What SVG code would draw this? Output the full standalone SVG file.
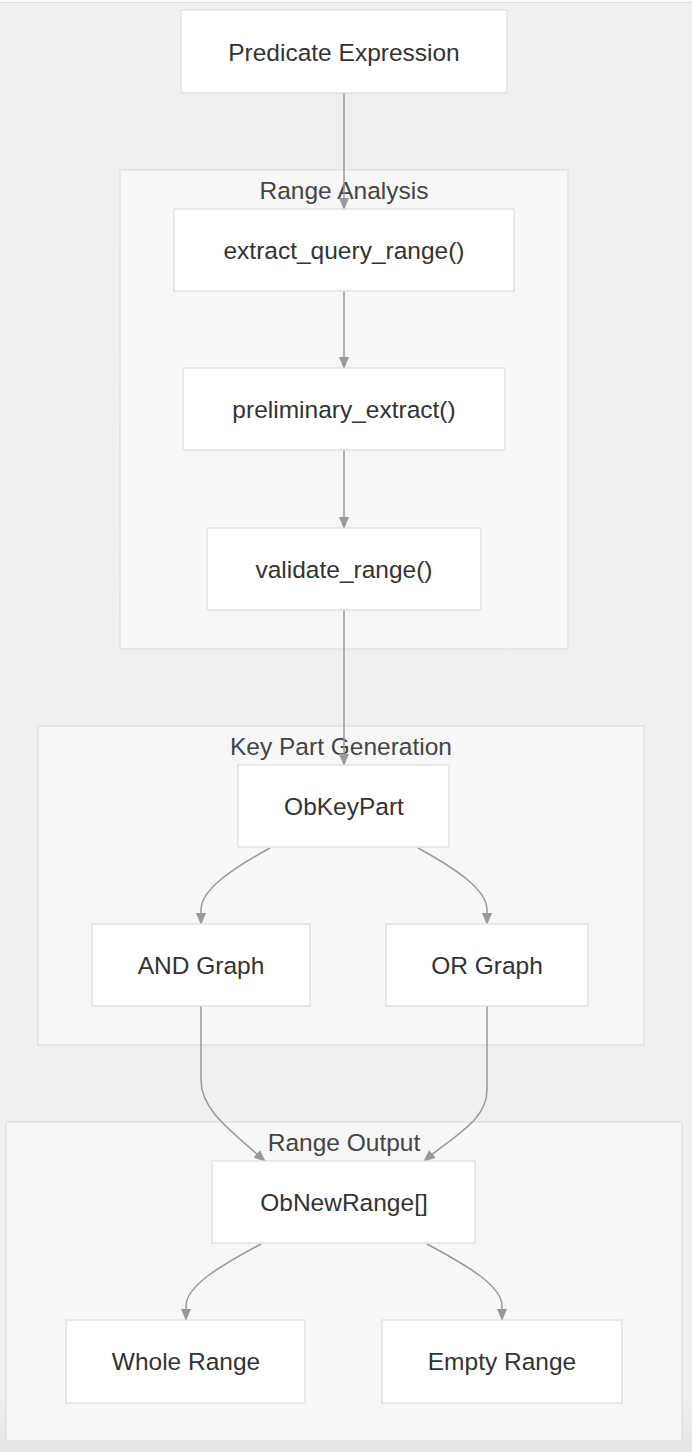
<svg xmlns="http://www.w3.org/2000/svg" width="692" height="1452" viewBox="0 0 692 1452">
<style>
.cluster rect{fill:#f7f7f7;stroke:#dcdcdc;stroke-width:1.2}
.node rect{fill:#ffffff;stroke:#dcdcdc;stroke-width:1.2}
text{font-family:"Liberation Sans",Arial,sans-serif;fill:#333333;text-anchor:middle;dominant-baseline:central}
.nt{font-size:24.5px}
.ct{font-size:24.5px;fill:#444444}
.edge{fill:none;stroke:#999999;stroke-width:1.5}
</style>
<defs>
<marker id="arr" viewBox="0 0 12 10" refX="11" refY="5" markerWidth="12" markerHeight="10" markerUnits="userSpaceOnUse" orient="auto">
<path d="M0,0 L12,5 L0,10 z" fill="#999999"/>
</marker>
<linearGradient id="bg" x1="0" y1="0" x2="0" y2="1">
<stop offset="0" stop-color="#f0efee"/>
<stop offset="0.96" stop-color="#f1f0ef"/>
<stop offset="1" stop-color="#e6e5e4"/>
</linearGradient>
</defs>
<rect x="0" y="0" width="692" height="1452" fill="url(#bg)"/>
<rect x="0" y="0" width="692" height="2" fill="#fafafa"/>
<line x1="0" y1="2.5" x2="692" y2="2.5" stroke="#e0e0e0" stroke-width="1"/>

<g id="cluster-range-analysis" class="cluster">
<rect x="120" y="170" width="448" height="479"/>
<text class="ct" x="344" y="190">Range Analysis</text>
</g>
<g id="cluster-key-part-generation" class="cluster">
<rect x="38" y="726" width="606" height="319"/>
<text class="ct" x="341" y="746">Key Part Generation</text>
</g>
<g id="cluster-range-output" class="cluster">
<rect x="6" y="1122" width="676" height="319"/>
<text class="ct" x="344" y="1142">Range Output</text>
</g>

<g id="connectors">
<path class="edge" marker-end="url(#arr)" d="M344,93 L344,209"/>
<path class="edge" marker-end="url(#arr)" d="M344,291 L344,368"/>
<path class="edge" marker-end="url(#arr)" d="M344,450 L344,528"/>
<path class="edge" marker-end="url(#arr)" d="M344,610 L344,765"/>
<path class="edge" marker-end="url(#arr)" d="M270,848 C230,870 201,890 201,910 L201,924"/>
<path class="edge" marker-end="url(#arr)" d="M418,848 C458,870 487,890 487,910 L487,924"/>
<path class="edge" marker-end="url(#arr)" d="M201,1006 L201,1080 C201,1110 230,1130 265,1161"/>
<path class="edge" marker-end="url(#arr)" d="M487,1006 L487,1090 C487,1120 455,1135 424,1161"/>
<path class="edge" marker-end="url(#arr)" d="M261,1244 C220,1266 186,1286 186,1306 L186,1320"/>
<path class="edge" marker-end="url(#arr)" d="M427,1244 C468,1266 502,1286 502,1306 L502,1320"/>
</g>

<g id="node-predicate" class="node">
<rect x="181" y="10" width="326" height="83"/>
<text class="nt" x="344" y="52">Predicate Expression</text>
</g>
<g id="node-extract" class="node">
<rect x="174" y="209" width="340" height="82"/>
<text class="nt" x="344" y="250">extract_query_range()</text>
</g>
<g id="node-preliminary" class="node">
<rect x="183" y="368" width="322" height="82"/>
<text class="nt" x="344" y="409">preliminary_extract()</text>
</g>
<g id="node-validate" class="node">
<rect x="207" y="528" width="274" height="82"/>
<text class="nt" x="344" y="569">validate_range()</text>
</g>
<g id="node-obkeypart" class="node">
<rect x="238" y="765" width="211" height="82"/>
<text class="nt" x="344" y="806">ObKeyPart</text>
</g>
<g id="node-and" class="node">
<rect x="92" y="924" width="218" height="82"/>
<text class="nt" x="201" y="965">AND Graph</text>
</g>
<g id="node-or" class="node">
<rect x="386" y="924" width="202" height="82"/>
<text class="nt" x="487" y="965">OR Graph</text>
</g>
<g id="node-obnewrange" class="node">
<rect x="212" y="1161" width="263" height="82"/>
<text class="nt" x="344" y="1202">ObNewRange[]</text>
</g>
<g id="node-whole" class="node">
<rect x="66" y="1320" width="239" height="83"/>
<text class="nt" x="186" y="1361">Whole Range</text>
</g>
<g id="node-empty" class="node">
<rect x="382" y="1320" width="240" height="83"/>
<text class="nt" x="502" y="1361">Empty Range</text>
</g>
</svg>
